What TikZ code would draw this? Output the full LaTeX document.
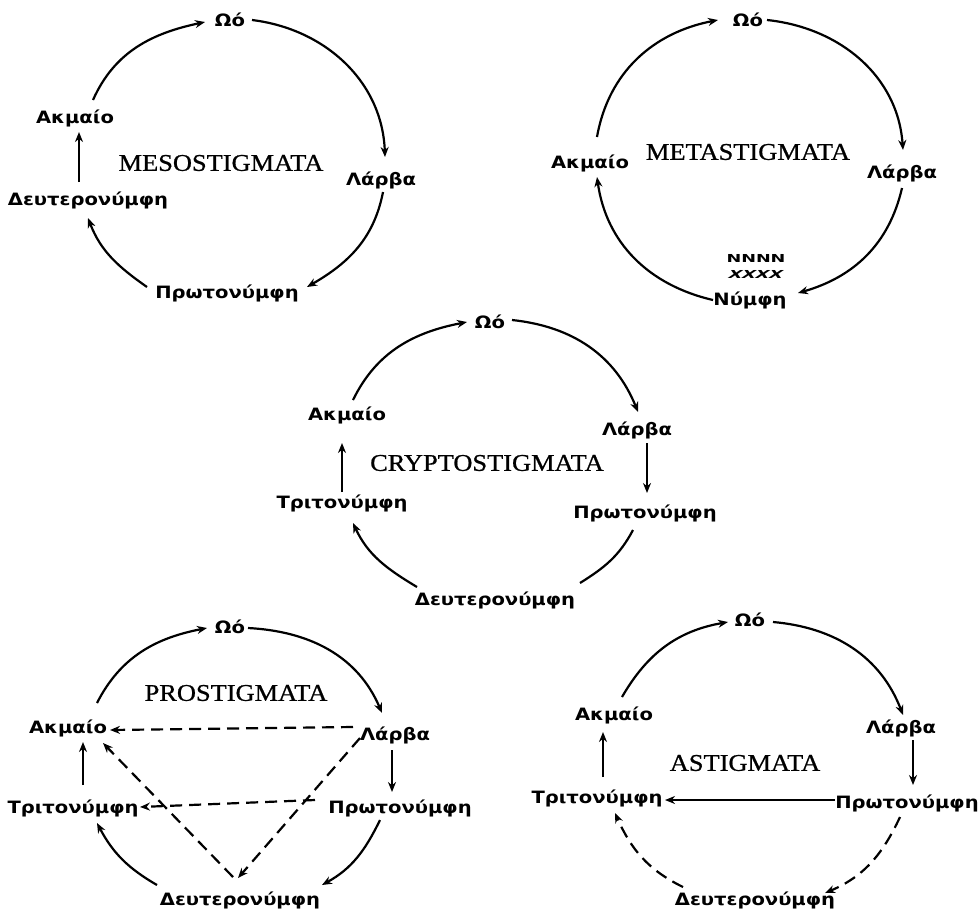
\documentclass[tikz,border=0pt]{standalone}
\usepackage{fontspec}
\setmainfont{Liberation Serif}
\newfontfamily\grfont[FakeStretch=1.15]{DejaVu Sans}
\newfontfamily\glyphfont[FakeStretch=1.6]{DejaVu Sans}
\newfontfamily\ttlfont[FakeStretch=1.1,FakeBold=0.8]{Liberation Serif}
\usetikzlibrary{arrows.meta}
\begin{document}
\begin{tikzpicture}[x=1pt,y=1pt,
  lbl/.style={font=\grfont\bfseries\fontsize{17}{17}\selectfont, inner sep=1pt},
  ttl/.style={font=\ttlfont\fontsize{24}{24}\selectfont, inner sep=1pt},
  tiny/.style={font=\glyphfont\bfseries\fontsize{11}{11}\selectfont, inner sep=0pt},
  arr/.style={line width=2.2pt, -{Stealth[length=10pt,width=8pt]}},
  plain/.style={line width=2.2pt},
  dsh/.style={line width=2.2pt, dash pattern=on 12pt off 7pt, -{Stealth[length=10pt,width=8pt]}}]
\useasboundingbox (0,0) rectangle (979,-919);

% ---------- MESOSTIGMATA ----------
\node[lbl] (oo1) at (230,-20) {Ωό};
\node[lbl] (la1) at (381,-180) {Λάρβα};
\node[lbl] (pr1) at (227,-293) {Πρωτονύμφη};
\node[lbl] (de1) at (88,-200) {Δευτερονύμφη};
\node[lbl] (ak1) at (75,-118) {Ακμαίο};
\node[ttl] (t1) at (221,-163) {MESOSTIGMATA};
\draw[arr] ([shift={(18,18)}]ak1.center) to[out=66,in=192] ([shift={(-25,-2)}]oo1.center);
\draw[arr] ([shift={(22,0)}]oo1.center) to[out=-7,in=92] ([shift={(4,23)}]la1.center);
\draw[arr] ([shift={(2,-12)}]la1.center) to[out=-101,in=30] ([shift={(80,6)}]pr1.center);
\draw[arr] ([shift={(-80,6)}]pr1.center) to[out=145,in=-69] ([shift={(0,-18)}]de1.center);
\draw[arr] ([shift={(-9,18)}]de1.center) -- ([shift={(4,-14)}]ak1.center);

% ---------- METASTIGMATA ----------
\node[lbl] (oo2) at (748,-20) {Ωό};
\node[lbl] (la2) at (902,-173) {Λάρβα};
\node[lbl] (ny2) at (750,-300) {Νύμφη};
\node[lbl] (ak2) at (590,-163) {Ακμαίο};
\node[ttl] (t2) at (748,-152) {METASTIGMATA};
\node[tiny] (g2a) at (756,-258) {ΝΝΝΝ};
\node[tiny, xslant=0.4] (g2b) at (756,-274) {ΧΧΧΧ};
\draw[arr] ([shift={(7,26)}]ak2.center) to[out=80,in=191] ([shift={(-30,0)}]oo2.center);
\draw[arr] ([shift={(19,0)}]oo2.center) to[out=-6,in=94] ([shift={(1,23)}]la2.center);
\draw[arr] ([shift={(0,-15)}]la2.center) to[out=-103,in=16] ([shift={(48,7)}]ny2.center);
\draw[arr] ([shift={(-37,0)}]ny2.center) to[out=167,in=-82] ([shift={(7,-14)}]ak2.center);

% ---------- CRYPTOSTIGMATA ----------
\node[lbl] (oo3) at (490,-322) {Ωό};
\node[lbl] (la3) at (637,-430) {Λάρβα};
\node[lbl] (pr3) at (645,-513) {Πρωτονύμφη};
\node[lbl] (de3) at (495,-600) {Δευτερονύμφη};
\node[lbl] (tr3) at (342,-503) {Τριτονύμφη};
\node[lbl] (ak3) at (347,-415) {Ακμαίο};
\node[ttl] (t3) at (487,-463) {CRYPTOSTIGMATA};
\draw[arr] ([shift={(6,15)}]ak3.center) to[out=64,in=191] ([shift={(-23,0)}]oo3.center);
\draw[arr] ([shift={(22,2)}]oo3.center) to[out=-6,in=112] ([shift={(1,18)}]la3.center);
\draw[arr] ([shift={(10,-13)}]la3.center) -- ([shift={(2,20)}]pr3.center);
\draw[plain] ([shift={(-12,-17)}]pr3.center) to[out=-118,in=32] ([shift={(85,17)}]de3.center);
\draw[arr] ([shift={(-78,13)}]de3.center) to[out=149,in=-65] ([shift={(11,-20)}]tr3.center);
\draw[arr] ([shift={(0,11)}]tr3.center) -- ([shift={(-5,-28)}]ak3.center);

% ---------- PROSTIGMATA ----------
\node[lbl] (oo4) at (230,-627) {Ωό};
\node[lbl] (la4) at (395,-735) {Λάρβα};
\node[lbl] (pr4) at (400,-808) {Πρωτονύμφη};
\node[lbl] (de4) at (240,-900) {Δευτερονύμφη};
\node[lbl] (tr4) at (73,-808) {Τριτονύμφη};
\node[lbl] (ak4) at (68,-728) {Ακμαίο};
\node[ttl] (t4) at (236,-693) {PROSTIGMATA};
\draw[arr] ([shift={(29,25)}]ak4.center) to[out=63,in=191] ([shift={(-23,-1)}]oo4.center);
\draw[arr] ([shift={(18,-1)}]oo4.center) to[out=-3,in=113] ([shift={(-13,22)}]la4.center);
\draw[arr] ([shift={(-3,-15)}]la4.center) -- ([shift={(-8,16)}]pr4.center);
\draw[arr] ([shift={(-20,-12)}]pr4.center) to[out=-116,in=29] ([shift={(82,15)}]de4.center);
\draw[arr] ([shift={(-83,15)}]de4.center) to[out=150,in=-62] ([shift={(24,-15)}]tr4.center);
\draw[arr] ([shift={(10,23)}]tr4.center) -- ([shift={(15,-14)}]ak4.center);
\draw[dsh] ([shift={(-42,8)}]la4.center) -- ([shift={(42,-2)}]ak4.center);
\draw[dsh] ([shift={(-85,8)}]pr4.center) -- ([shift={(67,1)}]tr4.center);
\draw[dsh] ([shift={(-35,-3)}]la4.center) -- ([shift={(-2,22)}]de4.center);
\draw[dsh] ([shift={(-7,23)}]de4.center) -- ([shift={(35,-15)}]ak4.center);

% ---------- ASTIGMATA ----------
\node[lbl] (oo5) at (750,-620) {Ωό};
\node[lbl] (la5) at (901,-728) {Λάρβα};
\node[lbl] (pr5) at (907,-803) {Πρωτονύμφη};
\node[lbl] (de5) at (755,-900) {Δευτερονύμφη};
\node[lbl] (tr5) at (597,-798) {Τριτονύμφη};
\node[lbl] (ak5) at (614,-715) {Ακμαίο};
\node[ttl] (t5) at (745,-763) {ASTIGMATA};
\draw[arr] ([shift={(8,18)}]ak5.center) to[out=60,in=190] ([shift={(-22,-2)}]oo5.center);
\draw[arr] ([shift={(23,-2)}]oo5.center) to[out=-5,in=111] ([shift={(2,13)}]la5.center);
\draw[arr] ([shift={(12,-12)}]la5.center) -- ([shift={(6,18)}]pr5.center);
\draw[arr] ([shift={(-72,3)}]pr5.center) -- ([shift={(68,-2)}]tr5.center);
\draw[dsh] ([shift={(-7,-14)}]pr5.center) to[out=-115,in=23] ([shift={(70,7)}]de5.center);
\draw[dsh] ([shift={(-72,13)}]de5.center) to[out=154,in=-66] ([shift={(18,-15)}]tr5.center);
\draw[arr] ([shift={(6,21)}]tr5.center) -- ([shift={(-11,-17)}]ak5.center);
\end{tikzpicture}
\end{document}
